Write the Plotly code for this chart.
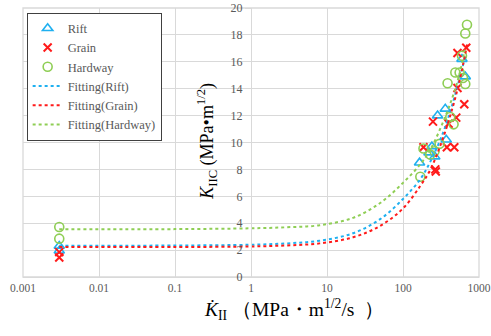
import plotly.graph_objects as go

# ---- data ----
rift_x = [0.003, 0.003, 165, 220, 240, 262, 285, 360, 371, 597, 660]
rift_y = [2.3, 1.95, 8.5, 9.25, 9.7, 8.95, 12.0, 12.5, 10.2, 16.2, 14.9]

grain_x = [0.003, 0.003, 186, 248, 266, 270, 378, 398, 473, 502, 521, 521, 640, 680]
grain_y = [1.85, 1.45, 9.65, 11.55, 8.0, 7.85, 9.65, 11.4, 9.65, 11.85, 14.05, 16.65, 12.85, 17.05]

hard_x = [0.003, 0.003, 169, 186, 228, 260, 303, 386, 419, 463, 488, 556, 615, 660, 597, 660, 695]
hard_y = [3.72, 2.85, 7.45, 9.55, 9.1, 9.35, 9.9, 14.4, 11.9, 11.35, 15.2, 15.2, 14.8, 14.35, 16.45, 18.1, 18.75]

fit_rift_x = [0.003, 0.1, 1, 3, 8, 22, 50, 100, 170, 230, 330, 450, 660]
fit_rift_y = [2.33, 2.34, 2.4, 2.5, 2.7, 3.25, 4.3, 5.8, 7.3, 8.6, 10.6, 12.9, 16.4]

fit_grain_x = [0.003, 0.1, 1, 3, 8, 22, 50, 100, 170, 230, 330, 450, 560, 700]
fit_grain_y = [2.23, 2.23, 2.27, 2.35, 2.5, 2.95, 3.8, 5.1, 6.8, 8.0, 10.2, 12.6, 14.7, 17.3]

fit_hard_x = [0.003, 0.1, 1, 3, 8, 22, 50, 100, 170, 230, 330, 450, 560, 650]
fit_hard_y = [3.55, 3.56, 3.62, 3.7, 3.85, 4.4, 5.5, 7.0, 8.4, 9.5, 11.4, 13.4, 15.2, 16.9]

x_ticks = [0.001, 0.01, 0.1, 1, 10, 100, 1000]
x_tick_text = ["0.001", "0.01", "0.1", "1", "10", "100", "1000"]
y_ticks = [0, 2, 4, 6, 8, 10, 12, 14, 16, 18, 20]

BLUE = "#1fb0f0"
RED = "#ff1a1a"
GREEN = "#8fce55"
GRID = "#d9d9d9"
TXT = "#595959"
FONT = "Liberation Serif"

fig = go.Figure()
fig.add_trace(go.Scatter(x=rift_x, y=rift_y, mode="markers", name="Rift",
                         marker=dict(symbol="triangle-up-open", size=9, color=BLUE,
                                     line=dict(width=1.6, color=BLUE))))
fig.add_trace(go.Scatter(x=grain_x, y=grain_y, mode="markers", name="Grain",
                         marker=dict(symbol="x-thin-open", size=8, color=RED,
                                     line=dict(width=2, color=RED))))
fig.add_trace(go.Scatter(x=hard_x, y=hard_y, mode="markers", name="Hardway",
                         marker=dict(symbol="circle-open", size=9, color=GREEN,
                                     line=dict(width=1.6, color=GREEN))))
fig.add_trace(go.Scatter(x=fit_rift_x, y=fit_rift_y, mode="lines", name="Fitting(Rift)",
                         line=dict(color=BLUE, width=2, dash="dot", shape="spline")))
fig.add_trace(go.Scatter(x=fit_grain_x, y=fit_grain_y, mode="lines", name="Fitting(Grain)",
                         line=dict(color=RED, width=2, dash="dot", shape="spline")))
fig.add_trace(go.Scatter(x=fit_hard_x, y=fit_hard_y, mode="lines", name="Fitting(Hardway)",
                         line=dict(color=GREEN, width=2, dash="dot", shape="spline")))

fig.update_layout(
    width=491, height=336,
    margin=dict(l=23, r=12, t=8, b=59, autoexpand=False),
    plot_bgcolor="white", paper_bgcolor="white",
    font=dict(family=FONT, color=TXT, size=12),
    showlegend=True,
    legend=dict(x=0.008, y=0.983, xanchor="left", yanchor="top",
                bgcolor="white", bordercolor="#404040", borderwidth=1,
                font=dict(family=FONT, size=12.5, color=TXT),
                tracegroupgap=0),
    xaxis=dict(type="log", range=[-3, 3], tickvals=x_ticks, ticktext=x_tick_text,
               showgrid=True, gridcolor=GRID, gridwidth=1.3, automargin=False,
               showline=True, linecolor=GRID, linewidth=1.3,
               ticks="",
               tickfont=dict(family=FONT, size=11.5, color=TXT), zeroline=False),
    yaxis=dict(range=[0, 20], tickvals=y_ticks, anchor="free", position=0.5,
               showgrid=True, gridcolor=GRID, gridwidth=1.3, automargin=False,
               showline=True, linecolor=GRID, linewidth=1.3,
               ticks="outside", ticklen=6, tickcolor=GRID,
               tickfont=dict(family=FONT, size=12, color=TXT), zeroline=False),
)

PW = 491 - 23 - 12
# plot frame
fig.add_shape(type="rect", xref="paper", yref="paper", x0=0, x1=1, y0=0, y1=1,
              line=dict(color=GRID, width=1.3), layer="below")
# white box behind the y-axis title
fig.add_shape(type="rect", xref="paper", yref="paper",
              x0=(193 - 23) / PW, x1=(221 - 23) / PW,
              y0=(277.3 - 225) / 269, y1=(277.3 - 55) / 269,
              fillcolor="white", line=dict(width=0), layer="between")

fig.add_annotation(text="<i>K</i><sub>IIC</sub> (MPa\u2022m<sup>1/2</sup>)",
                   xref="paper", yref="paper", x=(207 - 23) / PW, y=(277.3 - 142) / 269,
                   textangle=-90, showarrow=False,
                   font=dict(family=FONT, size=18, color="#000000"))
fig.add_annotation(text="<i>K\u0307</i><sub>II</sub> \uff08MPa\u30fbm<sup>1/2</sup>/s  \uff09",
                   xref="paper", yref="paper", x=(294 - 23) / PW, y=(277.3 - 325) / 269,
                   showarrow=False,
                   font=dict(family=FONT, size=19.5, color="#000000"))

fig.write_html("out.html", config={"displayModeBar": False},
               post_script="document.body.style.margin='0px';")
